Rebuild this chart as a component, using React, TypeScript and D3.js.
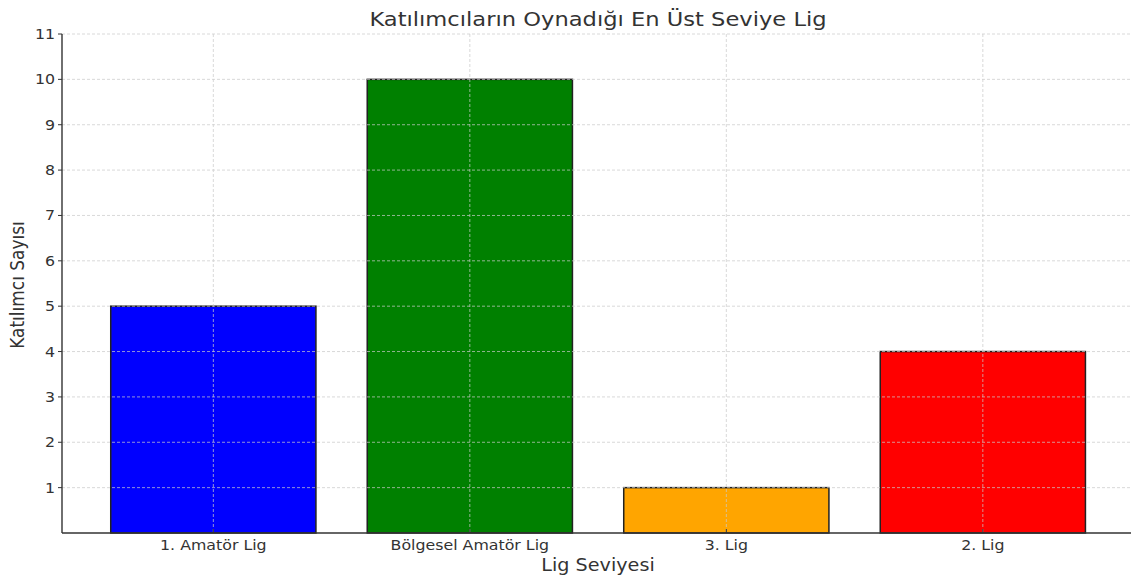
import React from 'react'
import * as d3 from 'd3'

const categories = ['1. Amatör Lig', 'Bölgesel Amatör Lig', '3. Lig', '2. Lig']
const counts = [5, 10, 1, 4]
const barColors = ['blue', 'green', 'orange', 'red']
const yTicks = [1, 2, 3, 4, 5, 6, 7, 8, 9, 10, 11]

const W = 1131,
	H = 577
const left = 62,
	bottom = 533,
	top = 34
const sx = 1.13 // the source image is a bit wider than tall, text looks stretched

const App = () => {
	// matplotlib-style: bars at integer positions, width 0.8
	const x = d3.scaleLinear().domain([-0.59, 3.59]).range([left, left + 4.18 * 256.5])
	const y = d3.scaleLinear().domain([0, 11]).range([bottom, top])
	const bw = x(0.4) - x(-0.4)
	const right = W

	const Label = ({ tx, ty, size, anchor, children }: any) => (
		<g transform={`translate(${tx},${ty}) scale(${sx},1)`}>
			<text textAnchor={anchor} fontSize={size} fill="#333">
				{children}
			</text>
		</g>
	)

	return (
		<svg width={W} height={H} style={{ position: 'absolute', left: 0, top: 0, fontFamily: 'DejaVu Sans' }}>
			<rect width={W} height={H} fill="white" />
			{categories.map((c, i) => (
				<rect
					key={c}
					x={x(i - 0.4)}
					y={y(counts[i])}
					width={bw}
					height={bottom - y(counts[i])}
					fill={barColors[i]}
					stroke="#222"
					strokeWidth={1.5}
				/>
			))}
			{/* grid on top of bars */}
			<g stroke="#ccc" strokeDasharray="3,2" strokeWidth={0.8} opacity={0.9}>
				{yTicks.map((t) => (
					<line key={t} x1={left} x2={right} y1={y(t)} y2={y(t)} />
				))}
				{categories.map((c, i) => (
					<line key={c} x1={x(i)} x2={x(i)} y1={top} y2={bottom} />
				))}
			</g>
			{/* spines */}
			<line x1={left} x2={left} y1={top} y2={bottom} stroke="#333" strokeWidth={1.4} />
			<line x1={left} x2={right} y1={bottom} y2={bottom} stroke="#333" strokeWidth={1.4} />
			{yTicks.map((t) => (
				<g key={t}>
					<line x1={left - 4} x2={left} y1={y(t)} y2={y(t)} stroke="#333" />
					<Label tx={left - 7} ty={y(t) + 5} size={14} anchor="end">
						{t}
					</Label>
				</g>
			))}
			{categories.map((c, i) => (
				<g key={c}>
					<line x1={x(i)} x2={x(i)} y1={bottom} y2={bottom - 4} stroke="#333" />
					<Label tx={x(i)} ty={bottom + 17} size={14} anchor="middle">
						{c}
					</Label>
				</g>
			))}
			<Label tx={598} ty={571} size={17} anchor="middle">
				Lig Seviyesi
			</Label>
			<text transform={`translate(24,285) scale(${sx},1) rotate(-90)`} textAnchor="middle" fontSize={17} fill="#333">
				Katılımcı Sayısı
			</text>
			<Label tx={598} ty={26} size={20} anchor="middle">
				Katılımcıların Oynadığı En Üst Seviye Lig
			</Label>
		</svg>
	)
}

export default App
